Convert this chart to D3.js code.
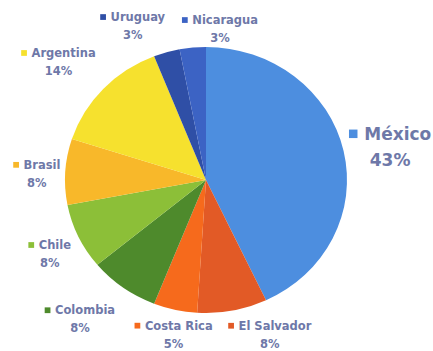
<!DOCTYPE html>
<html>
<head>
<meta charset="utf-8">
<script src="https://cdn.jsdelivr.net/npm/d3@7"></script>
<style>
  body { margin: 0; background: #fff; }
  svg { display: block; }
  .name, .pct { font-family: "DejaVu Sans", sans-serif; font-weight: bold; fill: #6e78a8; }
</style>
</head>
<body>
<svg id="chart" width="433" height="351"></svg>
<script>
// slices, clockwise from 12 o'clock
const countries = ['México', 'El Salvador', 'Costa Rica', 'Colombia', 'Chile', 'Brasil', 'Argentina', 'Uruguay', 'Nicaragua']
const shares = [43, 8, 5, 8, 8, 8, 14, 3, 3]
const colors = ['#4d8edf', '#e25a26', '#f66a1c', '#4e8a2c', '#8cbf38', '#f8b82a', '#f6e12e', '#2f4fa6', '#3c63c4']

const width = 433, height = 351
const cx = 206, cy = 180
const rx = 141, ry = 133

// label nudges (px) on top of the outer-arc position
const nudge = {
    'México': [8, 2], 'El Salvador': [30, -14], 'Costa Rica': [7, -13], 'Colombia': [-20, 0],
    'Chile': [7, 0], 'Brasil': [11, 3], 'Argentina': [-16, -3], 'Uruguay': [-23, 8], 'Nicaragua': [31, 17]
}

const pieData = countries.map((c, i) => ({ name: c, value: shares[i], color: colors[i] }))

const pie = d3.pie().sort(null).value(d => d.value)
const arcs = pie(pieData)
const arc = d3.arc().innerRadius(0).outerRadius(rx)

const svg = d3.select('#chart')

const pieGroup = svg.append('g')
    .attr('transform', `translate(${cx},${cy}) scale(1,${ry / rx})`)

pieGroup.selectAll('.slice')
    .data(arcs)
    .enter()
    .append('path')
    .classed('slice', true)
    .attr('d', arc)
    .attr('fill', d => d.data.color)

// labels
const k = 1.28
svg.selectAll('.label')
    .data(arcs)
    .enter()
    .append('g')
    .classed('label', true)
    .each(function (d) {
        const a = (d.startAngle + d.endAngle) / 2
        const n = nudge[d.data.name]
        const lx = cx + k * rx * Math.sin(a) + n[0]
        const ly = cy - k * ry * Math.cos(a) + n[1]
        const fs = d.data.name === 'México' ? 17 : 11.5
        const g = d3.select(this)

        const name = g.append('text')
            .classed('name', true)
            .attr('font-size', fs)
            .text(d.data.name)
        const tw = name.node().getComputedTextLength()
        const box = fs * 0.5
        const gap = fs * 0.4
        const total = box + gap + tw
        const x0 = lx - total / 2

        g.append('rect')
            .attr('x', x0)
            .attr('y', ly - 0.3 * fs - fs * 0.6)
            .attr('width', box)
            .attr('height', box)
            .attr('fill', d.data.color)

        name.attr('x', x0 + box + gap).attr('y', ly - 0.3 * fs)

        g.append('text')
            .classed('pct', true)
            .attr('font-size', fs)
            .attr('text-anchor', 'middle')
            .attr('x', lx)
            .attr('y', ly + 1.25 * fs)
            .text(d.data.value + '%')
    })
</script>
</body>
</html>
